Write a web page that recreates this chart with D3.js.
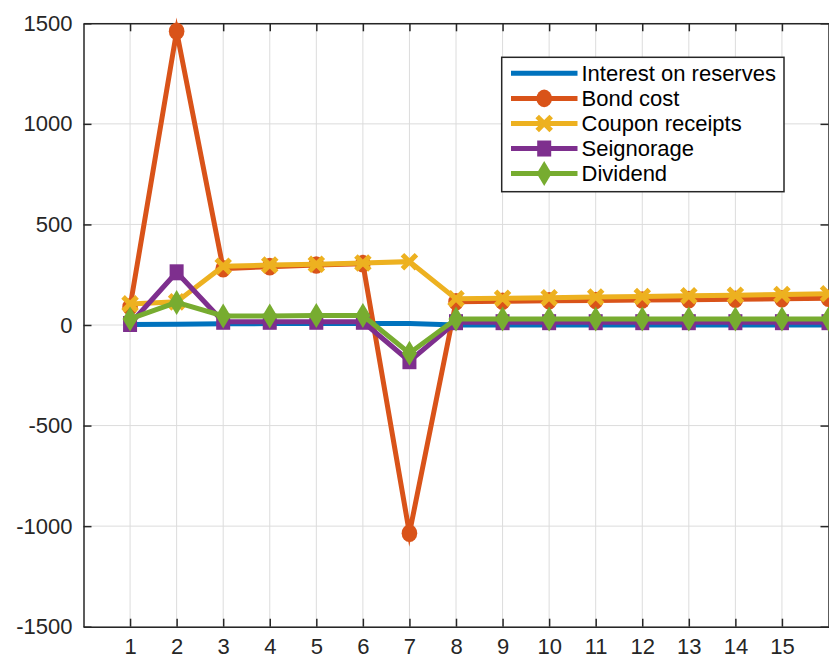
<!DOCTYPE html>
<html>
<head>
<meta charset="utf-8">
<script src="https://cdn.jsdelivr.net/npm/d3@7"></script>
<style>
  html, body { margin: 0; padding: 0; background: #fff; }
  svg { display: block; font-family: "Liberation Sans", Helvetica, Arial, sans-serif; }
</style>
</head>
<body>
<svg id="chart" width="829" height="658"></svg>
<script>
// ---- data ----
const periods = [1, 2, 3, 4, 5, 6, 7, 8, 9, 10, 11, 12, 13, 14, 15, 16];
const interestOnReserves = [3, 4, 6, 7, 7, 7, 7, 0, 0, 0, 0, 0, 0, 0, 0, 0];
const bondCost = [90, 1460, 280, 290, 298, 305, -1035, 115, 118, 120, 122, 124, 126, 128, 130, 133];
const couponReceipts = [105, 115, 292, 298, 302, 308, 315, 130, 133, 136, 139, 142, 145, 148, 152, 155];
const seignorage = [5, 262, 16, 16, 16, 16, -180, 14, 14, 14, 14, 14, 14, 14, 14, 14];
const dividend = [30, 112, 45, 45, 47, 47, -140, 30, 30, 30, 30, 30, 30, 30, 30, 30];
const seriesNames = ["Interest on reserves", "Bond cost", "Coupon receipts", "Seignorage", "Dividend"];
const seriesColors = ["#0072BD", "#D95319", "#EDB120", "#7E2F8E", "#77AC30"];
const seriesMarkers = ["none", "circle", "x", "square", "diamond"];
const xTickValues = [1, 2, 3, 4, 5, 6, 7, 8, 9, 10, 11, 12, 13, 14, 15];
const yTickValues = [-1500, -1000, -500, 0, 500, 1000, 1500];

const seriesValues = [interestOnReserves, bondCost, couponReceipts, seignorage, dividend];

(function () {
// ---- layout ----
const pLeft = 83.5, pRight = 828.5, pTop = 23.3, pBottom = 626.7;
const svg = d3.select("#chart");
const x = d3.scaleLinear().domain([0, 16]).range([pLeft, pRight]);
const y = d3.scaleLinear().domain([-1500, 1500]).range([pBottom, pTop]);
const axisColor = "#262626";
const fontSize = 22;
const fmt = d => String(d);

// grid
const grid = svg.append("g");
grid.selectAll("line.gx").data(xTickValues).join("line").attr("class", "gx")
  .attr("x1", d => x(d)).attr("x2", d => x(d)).attr("y1", pTop).attr("y2", pBottom)
  .attr("stroke", "#dcdcdc").attr("stroke-width", 1);
grid.selectAll("line.gy").data(yTickValues).join("line").attr("class", "gy")
  .attr("x1", pLeft).attr("x2", pRight).attr("y1", d => y(d)).attr("y2", d => y(d))
  .attr("stroke", "#dcdcdc").attr("stroke-width", 1);

// axes (bottom, left, top, right) with inward ticks
const tickLen = 8;
const xAxisB = d3.axisBottom(x).tickValues(xTickValues).tickSizeInner(-tickLen).tickSizeOuter(0).tickPadding(11.5).tickFormat(fmt);
const xAxisT = d3.axisTop(x).tickValues(xTickValues).tickSizeInner(-tickLen).tickSizeOuter(0).tickFormat("");
const yAxisL = d3.axisLeft(y).tickValues(yTickValues).tickSizeInner(-tickLen).tickSizeOuter(0).tickPadding(11).tickFormat(fmt);
const yAxisR = d3.axisRight(y).tickValues(yTickValues).tickSizeInner(-tickLen).tickSizeOuter(0).tickFormat("");

function styleAxis(g) {
  g.selectAll("path").attr("stroke", axisColor).attr("stroke-width", 1.5);
  g.selectAll("line").attr("stroke", axisColor).attr("stroke-width", 1.5);
  g.selectAll("text").attr("fill", axisColor).attr("font-size", fontSize)
    .attr("font-family", "'Liberation Sans', Helvetica, Arial, sans-serif");
}
svg.append("g").attr("transform", `translate(0,${pBottom})`).call(xAxisB).call(styleAxis);
svg.append("g").attr("transform", `translate(0,${pTop})`).call(xAxisT).call(styleAxis);
svg.append("g").attr("transform", `translate(${pLeft},0)`).call(yAxisL).call(styleAxis);
svg.append("g").attr("transform", `translate(${pRight},0)`).call(yAxisR).call(styleAxis);

// markers
function drawMarker(g, type, cx, cy, color) {
  if (type === "circle") {
    g.append("ellipse").attr("cx", cx).attr("cy", cy).attr("rx", 7.8).attr("ry", 8.8)
      .attr("fill", color);
  } else if (type === "x") {
    const s = 7;
    g.append("path")
      .attr("d", `M${cx - s},${cy - s}L${cx + s},${cy + s}M${cx - s},${cy + s}L${cx + s},${cy - s}`)
      .attr("stroke", color).attr("stroke-width", 5).attr("fill", "none");
  } else if (type === "square") {
    g.append("rect").attr("x", cx - 7).attr("y", cy - 8).attr("width", 14).attr("height", 16)
      .attr("fill", color);
  } else if (type === "diamond") {
    g.append("path")
      .attr("d", `M${cx},${cy - 12.5}L${cx + 7.5},${cy}L${cx},${cy + 12.5}L${cx - 7.5},${cy}Z`)
      .attr("fill", color);
  }
}

const line = d3.line().x(d => x(d[0])).y(d => y(d[1]));
const plot = svg.append("g");
seriesValues.forEach((vals, i) => {
  const pts = periods.map((p, j) => [p, vals[j]]);
  const g = plot.append("g");
  g.append("path").datum(pts).attr("d", line)
    .attr("fill", "none").attr("stroke", seriesColors[i]).attr("stroke-width", 5)
    .attr("stroke-linejoin", "miter").attr("stroke-miterlimit", 10);
  if (seriesMarkers[i] !== "none") {
    pts.forEach(p => drawMarker(g, seriesMarkers[i], x(p[0]), y(p[1]), seriesColors[i]));
  }
});

// legend
const lg = svg.append("g");
const lgX = 501.7, lgY = 57.3, lgW = 282.3, lgH = 134.4;
lg.append("rect").attr("x", lgX).attr("y", lgY).attr("width", lgW).attr("height", lgH)
  .attr("fill", "#fff").attr("stroke", axisColor).attr("stroke-width", 1.5);
const rowY = d3.scaleLinear().domain([0, 4]).range([73.3, 173.6]);
seriesNames.forEach((name, i) => {
  const cy = rowY(i);
  lg.append("line").attr("x1", 511).attr("x2", 577.5).attr("y1", cy).attr("y2", cy)
    .attr("stroke", seriesColors[i]).attr("stroke-width", 5);
  if (seriesMarkers[i] !== "none") drawMarker(lg, seriesMarkers[i], 544.2, cy, seriesColors[i]);
  lg.append("text").attr("x", 581.5).attr("y", cy + 7.8).text(name)
    .attr("font-size", fontSize).attr("fill", "#000");
});
})();
</script>
</body>
</html>
